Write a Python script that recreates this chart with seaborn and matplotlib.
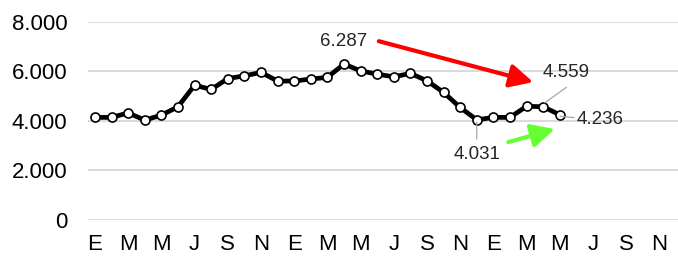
import matplotlib
matplotlib.use('Agg')
import matplotlib.pyplot as plt
import matplotlib.ticker as mticker
import seaborn as sns

# ── datos ────────────────────────────────────────────────────
MONTHS = ['E', 'F', 'M', 'A', 'M', 'J', 'J', 'A', 'S', 'O', 'N', 'D'] * 3
VALUES = [4130, 4130, 4310, 4020, 4220, 4560, 5430, 5260, 5700, 5810, 5950, 5600,
          5600, 5680, 5750, 6287, 6010, 5880, 5770, 5910, 5610, 5140, 4530, 4031,
          4130, 4130, 4580, 4559, 4236]
N_CATS = 36
Y_TICKS = [0, 2000, 4000, 6000, 8000]
I_MIN, I_HI = 23, 27      # puntos con etiqueta (mínimo y máximo reciente)

sns.set_theme(style='white')
plt.rcParams['font.family'] = ['Liberation Sans', 'DejaVu Sans']

def fmt(v):
    return f'{v:,.0f}'.replace(',', '.')

fig = plt.figure(figsize=(6.78, 2.59), dpi=100)
ax = fig.add_axes([88 / 678, 39.5 / 259, (678 - 88) / 678, (219.5 - 21.7) / 259])

x = list(range(len(VALUES)))
sns.lineplot(x=x, y=VALUES, ax=ax, color='black', linewidth=3.4, marker='o',
             markersize=6.5, markerfacecolor='white', markeredgecolor='black',
             markeredgewidth=1.2, zorder=3)

# el eje de categorías continúa más allá del borde derecho
ax.set_xlim(-0.42, 35.12)
ax.set_ylim(0, 8000)
ax.set_yticks(Y_TICKS)
ax.yaxis.set_major_formatter(mticker.FuncFormatter(lambda v, p: fmt(v)))
ax.set_xticks(range(0, N_CATS, 2))
ax.set_xticklabels(MONTHS[0:N_CATS:2])
ax.tick_params(axis='y', length=0, pad=15, labelsize=16, labelcolor='black')
ax.tick_params(axis='x', length=0, pad=10.5, labelsize=16, labelcolor='black')
ax.grid(axis='y', color='#d9d9d9', linewidth=1.4)
ax.set_axisbelow(True)
for s in ax.spines.values():
    s.set_visible(False)

# ── etiquetas de datos ───────────────────────────────────────
fs = 13.5
lead = dict(arrowstyle='-', color='#a6a6a6', lw=0.9, shrinkA=0, shrinkB=0)

i_max = VALUES.index(max(VALUES))
ax.text(i_max, 7212, fmt(VALUES[i_max]), ha='center', va='center', fontsize=fs)

ax.annotate('', xy=(I_MIN, VALUES[I_MIN] - 90), xytext=(I_MIN, 3253), arrowprops=lead)
ax.text(I_MIN, 2646, fmt(VALUES[I_MIN]), ha='center', va='center', fontsize=fs)

ax.annotate('', xy=(I_HI + 0.1, VALUES[I_HI] + 160), xytext=(28.4, 5350), arrowprops=lead)
ax.text(28.4, 5960, fmt(VALUES[I_HI]), ha='center', va='center', fontsize=fs)

i_last = len(VALUES) - 1
ax.annotate('', xy=(i_last, VALUES[i_last] - 60), xytext=(28.85, 4120), arrowprops=lead)
ax.text(30.4, 4060, fmt(VALUES[i_last]), ha='center', va='center', fontsize=fs)

# ── flechas de tendencia ─────────────────────────────────────
head = '-|>,head_length=1.0,head_width=0.5'
ax.annotate('', xy=(26.4, 5556), xytext=(17.1, 7212),
            arrowprops=dict(arrowstyle=head, color='#ff0000', lw=3,
                            shrinkA=0, shrinkB=0, mutation_scale=14))
ax.annotate('', xy=(27.7, 3657), xytext=(24.9, 3131),
            arrowprops=dict(arrowstyle=head, color='#66ff33', lw=3,
                            shrinkA=0, shrinkB=0, mutation_scale=14))

fig.savefig('out.png', dpi=100)
plt.close()
